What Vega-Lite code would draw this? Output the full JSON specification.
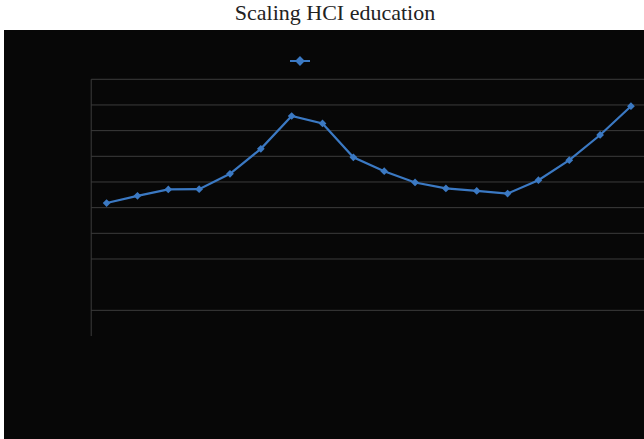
{
  "$schema": "https://vega.github.io/schema/vega-lite/v6.json",
  "width": 640,
  "height": 409,
  "autosize": {"type": "none"},
  "padding": {"left": 4, "top": 30, "right": 0, "bottom": 0},
  "background": "white",
  "title": {
    "text": "Scaling HCI education",
    "font": "Liberation Serif",
    "fontSize": 22,
    "fontWeight": "normal",
    "color": "#222222",
    "anchor": "middle",
    "frame": "group",
    "dx": 11,
    "dy": 20,
    "baseline": "alphabetic",
    "offset": 8
  },
  "config": {
    "view": {"fill": "#070707", "stroke": null}
  },
  "datasets": {
    "enrollment": [
      {"idx": 1, "value": 51.8, "series": "Enrollment"},
      {"idx": 2, "value": 54.6, "series": "Enrollment"},
      {"idx": 3, "value": 57.1, "series": "Enrollment"},
      {"idx": 4, "value": 57.2, "series": "Enrollment"},
      {"idx": 5, "value": 63.2, "series": "Enrollment"},
      {"idx": 6, "value": 72.9, "series": "Enrollment"},
      {"idx": 7, "value": 85.7, "series": "Enrollment"},
      {"idx": 8, "value": 82.8, "series": "Enrollment"},
      {"idx": 9, "value": 69.6, "series": "Enrollment"},
      {"idx": 10, "value": 64.2, "series": "Enrollment"},
      {"idx": 11, "value": 59.8, "series": "Enrollment"},
      {"idx": 12, "value": 57.5, "series": "Enrollment"},
      {"idx": 13, "value": 56.5, "series": "Enrollment"},
      {"idx": 14, "value": 55.5, "series": "Enrollment"},
      {"idx": 15, "value": 60.7, "series": "Enrollment"},
      {"idx": 16, "value": 68.5, "series": "Enrollment"},
      {"idx": 17, "value": 78.3, "series": "Enrollment"},
      {"idx": 18, "value": 89.5, "series": "Enrollment"}
    ],
    "gridlines": [
      {"value": 10}, {"value": 30}, {"value": 40}, {"value": 50},
      {"value": 60}, {"value": 70}, {"value": 80}, {"value": 90}, {"value": 100}
    ]
  },
  "encoding": {
    "y": {
      "field": "value",
      "type": "quantitative",
      "scale": {"domain": [-40.12, 119.2], "nice": false, "zero": false},
      "axis": null
    }
  },
  "layer": [
    {
      "data": {"name": "gridlines"},
      "mark": {"type": "rule", "color": "#3c3c3c", "strokeWidth": 1},
      "encoding": {
        "x": {"datum": 0.5, "type": "quantitative", "axis": null},
        "x2": {"datum": 18.423}
      }
    },
    {
      "data": {"values": [{"value": 0}]},
      "mark": {"type": "rule", "color": "#3c3c3c", "strokeWidth": 1},
      "encoding": {
        "x": {"datum": 0.5, "type": "quantitative", "axis": null},
        "y": {"datum": 100, "type": "quantitative", "axis": null},
        "y2": {"datum": 0}
      }
    },
    {
      "data": {"name": "enrollment"},
      "mark": {
        "type": "line",
        "strokeWidth": 2.2,
        "point": {"shape": "diamond", "size": 60, "filled": true}
      },
      "encoding": {
        "x": {
          "field": "idx",
          "type": "quantitative",
          "scale": {"domain": [-2.327, 18.423], "nice": false, "zero": false},
          "axis": {
            "title": null,
            "offset": -103,
            "values": [0.5, 1.5, 2.5, 3.5, 4.5, 5.5, 6.5, 7.5, 8.5, 9.5, 10.5, 11.5, 12.5, 13.5, 14.5, 15.5, 16.5, 17.5],
            "domain": false,
            "grid": false,
            "labels": false,
            "ticks": true,
            "tickColor": "#3a3a3a",
            "tickSize": 5,
            "tickWidth": 1
          }
        },
        "y": {
          "field": "value",
          "type": "quantitative",
          "axis": {
            "title": null,
            "offset": -87,
            "values": [0, 10, 20, 30, 40, 50, 60, 70, 80, 90, 100],
            "domain": false,
            "grid": false,
            "labels": false,
            "ticks": true,
            "tickColor": "#3c3c3c",
            "tickSize": 5,
            "tickWidth": 1
          }
        },
        "color": {
          "field": "series",
          "type": "nominal",
          "scale": {"range": ["#3b79c3"]},
          "legend": {
            "title": null,
            "orient": "none",
            "legendX": 285,
            "legendY": 20,
            "symbolType": "M-1,0L1,0M0,-0.35L0.35,0L0,0.35L-0.35,0Z",
            "symbolSize": 400,
            "symbolStrokeWidth": 2,
            "symbolFillColor": "#3b79c3",
            "symbolStrokeColor": "#3b79c3",
            "labelExpr": "''"
          }
        }
      }
    }
  ]
}
